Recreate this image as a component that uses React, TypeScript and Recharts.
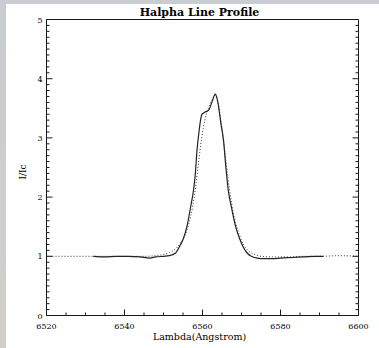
import { Label, Line, LineChart, XAxis, YAxis } from "recharts";

// Halpha line profile: observed (solid) vs. comparison profile (dotted)

const observedLambda = [
  6532, 6535, 6538, 6541, 6544, 6546.5, 6548, 6550, 6551.5, 6553, 6554.3, 6555.1, 6556, 6557,
  6557.7, 6558.1, 6558.6, 6559.1, 6559.5, 6559.9, 6560.8, 6561.6, 6562.4, 6563.3, 6564,
  6564.7, 6565.4, 6566, 6566.6, 6567.5, 6568.5, 6569.5, 6570.5, 6571.4, 6572.5, 6574, 6576,
  6578, 6580, 6583, 6586, 6589, 6591,
];
const observedFlux = [
  1.0, 0.99, 1.0, 1.0, 0.99, 0.97, 0.99, 1.0, 1.01, 1.05, 1.19, 1.3, 1.5, 1.85,
  2.12, 2.35, 2.8, 3.1, 3.3, 3.4, 3.44, 3.47, 3.6, 3.74, 3.58,
  3.25, 2.95, 2.5, 2.12, 1.8, 1.5, 1.3, 1.15, 1.06, 1.0, 0.97, 0.96,
  0.96, 0.97, 0.98, 0.99, 1.0, 1.0,
];

const modelLambda = [
  6520, 6525, 6530, 6535, 6540, 6545, 6548, 6550, 6551.5, 6553, 6554.3, 6555.5, 6556.5,
  6557.5, 6558.3, 6559, 6559.8, 6560.6, 6561.5, 6562.5, 6563.3, 6564, 6564.7, 6565.4,
  6566.2, 6567, 6568, 6569, 6570, 6571, 6572, 6573.5, 6575, 6578, 6582, 6586, 6590, 6595,
  6600,
];
const modelFlux = [
  1.0, 1.0, 1.0, 1.0, 1.0, 1.0, 1.01, 1.03, 1.06, 1.12, 1.22, 1.35, 1.55,
  1.85, 2.2, 2.6, 3.0, 3.3, 3.5, 3.65, 3.72, 3.6, 3.3, 2.95,
  2.5, 2.1, 1.7, 1.45, 1.27, 1.15, 1.08, 1.03, 1.0, 0.99, 0.99, 1.0, 1.0, 1.01,
  1.0,
];

const xTicks = [
  6520, 6525, 6530, 6535, 6540, 6545, 6550, 6555, 6560, 6565, 6570, 6575, 6580, 6585, 6590,
  6595, 6600,
];
const xLabels = [6520, 6540, 6560, 6580, 6600];
const yTicks = Array.from({ length: 51 }, (_, i) => i / 10);

const observed = observedLambda.map((x, i) => ({ x, y: observedFlux[i] }));
const model = modelLambda.map((x, i) => ({ x, y: modelFlux[i] }));

const INK = "#1a1a1a";
const FONT = "'DejaVu Serif', serif";

const isMajorY = (v: number) => Math.abs(v - Math.round(v)) < 1e-6;

function BottomTick({ x, y, payload }: any) {
  const major = xLabels.includes(payload.value);
  return (
    <g>
      <line x1={x} x2={x} y1={y} y2={y - (major ? 6 : 3)} stroke={INK} />
      {major && (
        <text x={x} y={y + 13} textAnchor="middle" fontSize={8} fontFamily={FONT} fill="#000">
          {payload.value}
        </text>
      )}
    </g>
  );
}

function TopTick({ x, y, payload }: any) {
  const major = xLabels.includes(payload.value);
  return <line x1={x} x2={x} y1={y} y2={y + (major ? 6 : 3)} stroke={INK} />;
}

function LeftTick({ x, y, payload }: any) {
  const major = isMajorY(payload.value);
  return (
    <g>
      <line x1={x} x2={x + (major ? 6 : 3)} y1={y} y2={y} stroke={INK} />
      {major && (
        <text x={x - 4} y={y + 3} textAnchor="end" fontSize={8} fontFamily={FONT} fill="#000">
          {Math.round(payload.value)}
        </text>
      )}
    </g>
  );
}

function RightTick({ x, y, payload }: any) {
  const major = isMajorY(payload.value);
  return <line x1={x} x2={x - (major ? 6 : 3)} y1={y} y2={y} stroke={INK} />;
}

export default function App() {
  return (
    <div
      style={{
        position: "fixed",
        left: 0,
        top: 0,
        width: 379,
        height: 348,
        background: "#fff",
        overflow: "hidden",
      }}
    >
      <div style={{ position: "absolute", left: 0, top: 0, width: 379, height: 4, background: "#c9ccd0" }} />
      <div
        style={{
          position: "absolute",
          left: 0,
          top: 0,
          width: 6,
          height: 348,
          background: "linear-gradient(#c9ccd0, #d2cfcb)",
        }}
      />
      <div style={{ position: "absolute", left: 0, top: 0 }}>
        <LineChart
          width={379}
          height={348}
          margin={{ top: 18.5, right: 19.5, bottom: 31.5, left: 45.5 }}
        >
          <XAxis
            xAxisId="bottom"
            dataKey="x"
            type="number"
            domain={[6520, 6600]}
            ticks={xTicks}
            interval={0}
            height={1}
            tickSize={0}
            tickMargin={0}
            tickLine={false}
            tick={<BottomTick />}
            axisLine={{ stroke: INK }}
            allowDataOverflow
          >
            <Label
              content={() => (
                <text x={199.5} y={340} textAnchor="middle" fontSize={9.5} fontFamily={FONT} fill="#000">
                  Lambda(Angstrom)
                </text>
              )}
            />
          </XAxis>
          <XAxis
            xAxisId="top"
            orientation="top"
            type="number"
            domain={[6520, 6600]}
            ticks={xTicks}
            interval={0}
            height={1}
            tickSize={0}
            tickMargin={0}
            tickLine={false}
            tick={<TopTick />}
            axisLine={{ stroke: INK }}
            allowDataOverflow
          >
            <Label
              content={() => (
                <text
                  x={199.5}
                  y={16}
                  textAnchor="middle"
                  fontSize={11}
                  fontWeight="bold"
                  fontFamily={FONT}
                  fill="#000"
                >
                  Halpha Line Profile
                </text>
              )}
            />
          </XAxis>
          <YAxis
            yAxisId="left"
            type="number"
            domain={[0, 5]}
            ticks={yTicks}
            interval={0}
            width={1}
            tickSize={0}
            tickMargin={0}
            tickLine={false}
            tick={<LeftTick />}
            axisLine={{ stroke: INK }}
            allowDataOverflow
          >
            <Label
              content={() => (
                <text
                  x={26}
                  y={172}
                  textAnchor="middle"
                  fontSize={9}
                  fontFamily={FONT}
                  fill="#000"
                  transform="rotate(-90 26 172)"
                >
                  I/Ic
                </text>
              )}
            />
          </YAxis>
          <YAxis
            yAxisId="right"
            orientation="right"
            type="number"
            domain={[0, 5]}
            ticks={yTicks}
            interval={0}
            width={1}
            tickSize={0}
            tickMargin={0}
            tickLine={false}
            tick={<RightTick />}
            axisLine={{ stroke: INK }}
            allowDataOverflow
          />
          <Line
            data={model}
            dataKey="y"
            xAxisId="bottom"
            yAxisId="left"
            type="monotone"
            stroke="#333"
            strokeWidth={1}
            strokeDasharray="1 2"
            dot={false}
            isAnimationActive={false}
          />
          <Line
            data={observed}
            dataKey="y"
            xAxisId="bottom"
            yAxisId="left"
            type="monotone"
            stroke="#222"
            strokeWidth={1.2}
            dot={false}
            isAnimationActive={false}
          />
        </LineChart>
      </div>
    </div>
  );
}
